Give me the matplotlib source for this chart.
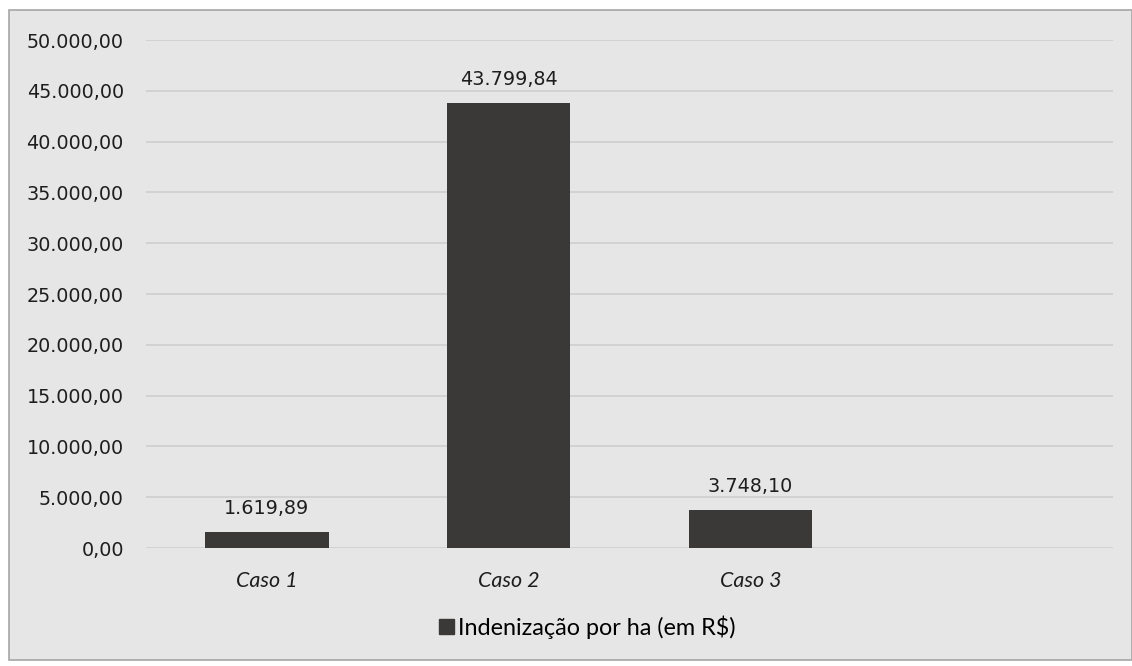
import matplotlib
matplotlib.use('Agg')
from matplotlib import pyplot as plt
from matplotlib.patches import Rectangle
import numpy as np

casos = ['Caso 1', 'Caso 2', 'Caso 3', '']
valores = [1619.89, 43799.84, 3748.10, None]
rotulos = ['1.619,89', '43.799,84', '3.748,10']
serie = 'Indenização por ha (em R$)'
yticks = np.arange(0, 50001, 5000)

fundo = '#E7E6E6'
cor_barra = '#3A3937'
cor_texto = '#1E1E1E'
W, H = 1132, 666


def fmt_br(v):
    s = '{:,.2f}'.format(v)
    return s.replace(',', 'X').replace('.', ',').replace('X', '.')


fig = plt.figure(figsize=(W / 100, H / 100), dpi=100)
fig.patch.set_facecolor('white')
# moldura do grafico
fig.patches.append(Rectangle((9 / W, 1 - 660 / H), (W - 9) / W, 650 / H,
                             transform=fig.transFigure, facecolor=fundo,
                             edgecolor='#A6A6A6', linewidth=1.2, zorder=-5))

x0, x1, ytop, ybot = 146, 1113, 40, 548
ax = fig.add_axes([x0 / W, 1 - ybot / H, (x1 - x0) / W, (ybot - ytop) / H])
ax.set_facecolor('none')

pos = np.arange(len(casos))
alturas = [v if v is not None else 0 for v in valores]
barras = ax.bar(pos[:3], alturas[:3], width=0.51, color=cor_barra, zorder=3)
ax.set_xlim(-0.5, len(casos) - 0.5)
ax.set_ylim(0, 50000)

ax.set_yticks(yticks)
ax.set_yticklabels([fmt_br(v) for v in yticks], fontsize=13.8, color=cor_texto,
                   family='DejaVu Sans')
ax.tick_params(axis='y', length=0, pad=16)
ax.set_xticks(pos)
ax.set_xticklabels(casos, fontsize=15.5, style='italic', color=cor_texto,
                   family='Lato')
ax.tick_params(axis='x', length=0, pad=16.5)

ax.grid(axis='y', color='#D0CFCF', linewidth=1.2, zorder=0)
for s in ax.spines.values():
    s.set_visible(False)

for b, txt in zip(barras, rotulos):
    ax.annotate(txt, (b.get_x() + b.get_width() / 2, b.get_height()),
                xytext=(0, 10), textcoords='offset points', ha='center',
                va='bottom', fontsize=13.8, color=cor_texto, family='DejaVu Sans')

fig.legend([Rectangle((0, 0), 1, 1, color=cor_barra)], [serie],
           loc='center', bbox_to_anchor=(587 / W, 1 - 627 / H), frameon=False,
           handlelength=0.65, handleheight=0.65, handletextpad=0.15,
           prop={'family': 'Lato', 'size': 16.8})

fig.savefig('out.png', dpi=100, facecolor='white')
